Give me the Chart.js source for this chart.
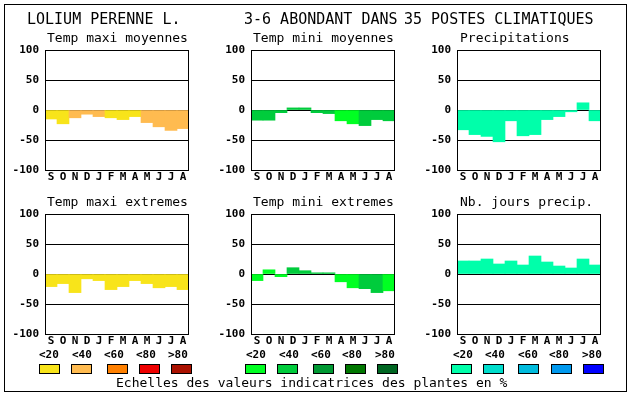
<!DOCTYPE html>
<html>
<head>
<meta charset="utf-8">
<script src="https://cdn.jsdelivr.net/npm/chart.js@4"></script>
<style>
html,body{margin:0;padding:0;background:#fff;}
#wrap{position:relative;width:630px;height:394px;overflow:hidden;background:#fff;}
canvas{position:absolute;}
svg{position:absolute;left:0;top:0;}
svg text{font-family:"DejaVu Sans Mono",monospace;fill:#000;}
</style>
</head>
<body>
<div id="wrap">
<canvas id="c0"></canvas><canvas id="c1"></canvas><canvas id="c2"></canvas>
<canvas id="c3"></canvas><canvas id="c4"></canvas><canvas id="c5"></canvas>
<svg id="ov" width="630" height="394"></svg>
</div>
<script>
// ---- data ----
const months = ['S','O','N','D','J','F','M','A','M','J','J','A'];
const yTicks = [-100,-50,0,50,100];
const classLabels = ['<20','<40','<60','<80','>80'];

const panelTitles = ['Temp maxi moyennes','Temp mini moyennes','Precipitations',
                     'Temp maxi extremes','Temp mini extremes','Nb. jours precip.'];

const tempMaxiMoy = [-15,-23,-13,-7,-11,-13,-16,-11,-21,-28,-34,-31];
const tempMaxiMoyClass = [0,0,1,1,1,0,0,0,1,1,1,1];
const tempMiniMoy = [-17,-17,-4.5,3.5,3.5,-4.5,-6,-18,-23,-26,-16,-18];
const tempMiniMoyClass = [1,1,1,1,1,1,1,0,0,1,1,1];
const precip = [-33,-41,-44,-53,-18,-43,-41,-16,-11,-3,12,-18];
const precipClass = [0,0,0,0,0,0,0,0,0,0,0,0];
const tempMaxiExt = [-21,-16,-31,-8,-11,-26,-21,-11,-16,-23,-21,-26];
const tempMaxiExtClass = [0,0,0,0,0,0,0,0,0,0,0,0];
const tempMiniExt = [-11,7,-4.5,10.5,5.5,2,2,-13,-23,-24.5,-31,-28];
const tempMiniExtClass = [0,0,0,1,1,1,1,0,0,1,1,0];
const nbJours = [21.7,21.7,25,16.7,21.7,15,30,20,13.3,10,25,15];
const nbJoursClass = [0,0,0,0,0,0,0,0,0,0,0,0];

const paletteMaxi = ['#F8E41A','#FFBB50','#FF8000','#EE0000','#AA1100'];
const paletteMini = ['#00FF22','#00CC3C','#009933','#007700','#006622'];
const palettePrec = ['#00FFAA','#00DDCC','#00BBDD','#0099EE','#0000FF'];

// ---- layout ----
const plotLefts = [45,251,457];
const plotTops = [50,214];
const PW = 144, PH = 120;
const FONT = '"DejaVu Sans Mono", monospace';

const panels = [
  {vals:tempMaxiMoy, cls:tempMaxiMoyClass, pal:paletteMaxi},
  {vals:tempMiniMoy, cls:tempMiniMoyClass, pal:paletteMini},
  {vals:precip, cls:precipClass, pal:palettePrec},
  {vals:tempMaxiExt, cls:tempMaxiExtClass, pal:paletteMaxi},
  {vals:tempMiniExt, cls:tempMiniExtClass, pal:paletteMini},
  {vals:nbJours, cls:nbJoursClass, pal:palettePrec}
];

const framePlugin = {
  id:'frame',
  afterDraw(chart){
    const a = chart.chartArea, ctx = chart.ctx;
    ctx.save();
    ctx.strokeStyle = '#000'; ctx.lineWidth = 1;
    ctx.strokeRect(Math.round(a.left)+0.5, Math.round(a.top)+0.5,
                   Math.round(a.right-a.left)-1, Math.round(a.bottom-a.top));
    ctx.restore();
  }
};

const padL = 42, padT = 8, padR = 6, padB = 18;
panels.forEach((p,i)=>{
  const col = i%3, row = Math.floor(i/3);
  const cv = document.getElementById('c'+i);
  const w = PW+padL+padR, h = PH+padT+padB;
  cv.width = w; cv.height = h;
  cv.style.width = w+'px'; cv.style.height = h+'px';
  cv.style.left = (plotLefts[col]-padL)+'px';
  cv.style.top = (plotTops[row]-padT)+'px';
  new Chart(cv, {
    type:'bar',
    data:{labels:months, datasets:[{
      data:p.vals,
      backgroundColor:p.cls.map(c=>p.pal[c]),
      borderWidth:0, barPercentage:1, categoryPercentage:1
    }]},
    options:{
      responsive:false, animation:false, devicePixelRatio:1,
      layout:{padding:{left:0,top:padT,right:padR,bottom:0}},
      plugins:{legend:{display:false}, tooltip:{enabled:false}},
      scales:{
        x:{
          grid:{display:false, drawTicks:false}, border:{display:false},
          ticks:{font:{family:FONT, weight:'bold', size:11}, color:'#000',
                 padding:1, maxRotation:0, minRotation:0, autoSkip:false},
          afterFit(s){ s.height = padB; s.paddingLeft = 0; s.paddingRight = 0; }
        },
        y:{
          min:-100, max:100, z:1,
          afterBuildTicks(s){ s.ticks = yTicks.map(v=>({value:v})); },
          ticks:{font:{family:FONT, weight:'bold', size:11}, color:'#000', padding:6},
          grid:{color:'#000', lineWidth:1, drawTicks:false},
          border:{display:false},
          afterFit(s){ s.width = padL; s.paddingTop = 0; s.paddingBottom = 0; }
        }
      }
    },
    plugins:[framePlugin]
  });
});

// ---- overlay texts, frame & legend ----
const ov = document.getElementById('ov');
const NS = 'http://www.w3.org/2000/svg';
function txt(x,y,s,size,weight){
  const t = document.createElementNS(NS,'text');
  t.setAttribute('x',x); t.setAttribute('y',y);
  t.setAttribute('font-size',size);
  if(weight) t.setAttribute('font-weight',weight);
  t.textContent = s; ov.appendChild(t);
}
function rect(x,y,w,h,fill,stroke){
  const r = document.createElementNS(NS,'rect');
  r.setAttribute('x',x); r.setAttribute('y',y);
  r.setAttribute('width',w); r.setAttribute('height',h);
  r.setAttribute('fill',fill);
  if(stroke){ r.setAttribute('stroke',stroke); r.setAttribute('stroke-width',1); }
  ov.appendChild(r);
}
rect(4.5,4.5,622,387,'none','#000');

txt(27,24,'LOLIUM PERENNE L.',15);
txt(244,24,'3-6 ABONDANT DANS',15);
txt(404,24,'35 POSTES CLIMATIQUES',15);

panelTitles.forEach((s,i)=>{
  const col=i%3,row=Math.floor(i/3);
  txt(plotLefts[col]+ (col===2?3:2), plotTops[row]-8, s, 13);
});

const legendBoxX = [[39,71,107,139,171],[245,277,313,345,377],[451,483,518,551,583]];
const legendLabelX = [[39,72,104,136,168],[246,279,311,342,375],[453,485,518,549,582]];
const pals = [paletteMaxi,paletteMini,palettePrec];
for(let g=0;g<3;g++){
  for(let k=0;k<5;k++){
    txt(legendLabelX[g][k],358,classLabels[k],11,'bold');
    rect(legendBoxX[g][k]+0.5,364.5,20,9,pals[g][k],'#000');
  }
}
txt(116,387,'Echelles des valeurs indicatrices des plantes en %',13);
</script>
</body>
</html>
